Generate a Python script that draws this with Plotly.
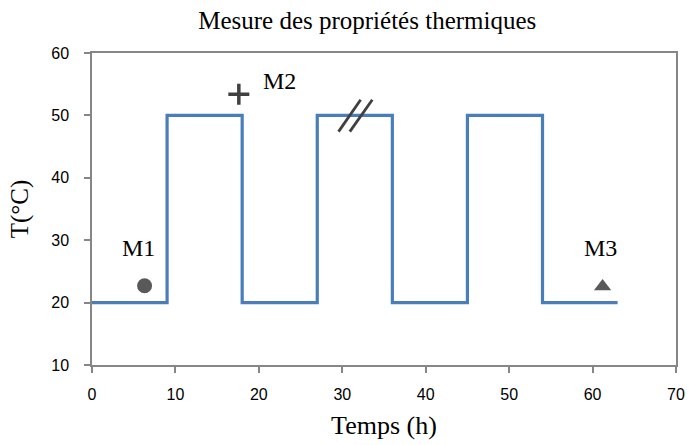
import plotly.graph_objects as go

# Step profile (time in h, temperature in °C)
step_time = [0, 9, 18, 27, 36, 45, 54, 63]
step_temp = [20, 50, 20, 50, 20, 50, 20, 20]

# Measurement points
m_names = ["M1", "M2", "M3"]
m_time = [6.3, 17.6, 61.2]
m_temp = [22.7, 53.4, 22.6]
m_symbols = ["circle", "cross-thin", "triangle-up"]
label_time = [5.6, 22.5, 60.9]
label_temp = [28.7, 55.5, 28.7]

# Axis break mark "//"
break1_time = [29.55, 32.2]
break2_time = [30.9, 33.6]
break_temp = [47.4, 52.5]

x_ticks = [0, 10, 20, 30, 40, 50, 60, 70]
y_ticks = [10, 20, 30, 40, 50, 60]

fig = go.Figure()
fig.add_trace(go.Scatter(x=step_time, y=step_temp, mode="lines",
                         line=dict(color="#4A7EBB", width=3.2, shape="hv"),
                         showlegend=False, hoverinfo="skip"))
for bx in (break1_time, break2_time):
    fig.add_trace(go.Scatter(x=bx, y=break_temp, mode="lines",
                             line=dict(color="#404040", width=2.8),
                             showlegend=False, hoverinfo="skip"))
for i, name in enumerate(m_names):
    sym = m_symbols[i]
    if sym == "cross-thin":
        marker = dict(symbol=sym, size=15, color="#404040",
                      line=dict(color="#404040", width=3.5))
    else:
        marker = dict(symbol=sym, size=15, color="#595959",
                      line=dict(width=0))
    fig.add_trace(go.Scatter(x=[m_time[i]], y=[m_temp[i]], mode="markers",
                             marker=marker, showlegend=False, name=name))
    fig.add_annotation(x=label_time[i], y=label_temp[i], text=name,
                       showarrow=False, xref="x", yref="y",
                       font=dict(family="Liberation Serif", size=24, color="#000"))

serif = "Liberation Serif"
axis_common = dict(showline=True, linecolor="#868686", linewidth=1.5,
                   mirror=True, showgrid=False, zeroline=False,
                   ticks="outside", ticklen=6, tickcolor="#868686",
                   tickwidth=1.5, automargin=False,
                   tickfont=dict(family="Liberation Sans", size=16, color="#000"))

fig.update_layout(
    width=689, height=445,
    margin=dict(l=92, r=13, t=53, b=80),
    paper_bgcolor="white", plot_bgcolor="white",
    title=dict(text="Mesure des propriétés thermiques", x=0.533, xanchor="center",
               y=0.955, yanchor="middle", automargin=False,
               font=dict(family=serif, size=25, color="#000")),
    xaxis=dict(range=[0, 70], tickvals=x_ticks, ticklabelstandoff=8,
               title=dict(text="Temps (h)", standoff=14,
                          font=dict(family=serif, size=26, color="#000")),
               **axis_common),
    yaxis=dict(range=[10, 60], tickvals=y_ticks, ticklabelstandoff=12,
               title=dict(text="T(°C)", standoff=16,
                          font=dict(family=serif, size=25, color="#000")),
               **axis_common),
)

fig.write_html("out.html", config={"displayModeBar": False},
               post_script="document.body.style.margin='0px';document.body.style.overflow='hidden';")
